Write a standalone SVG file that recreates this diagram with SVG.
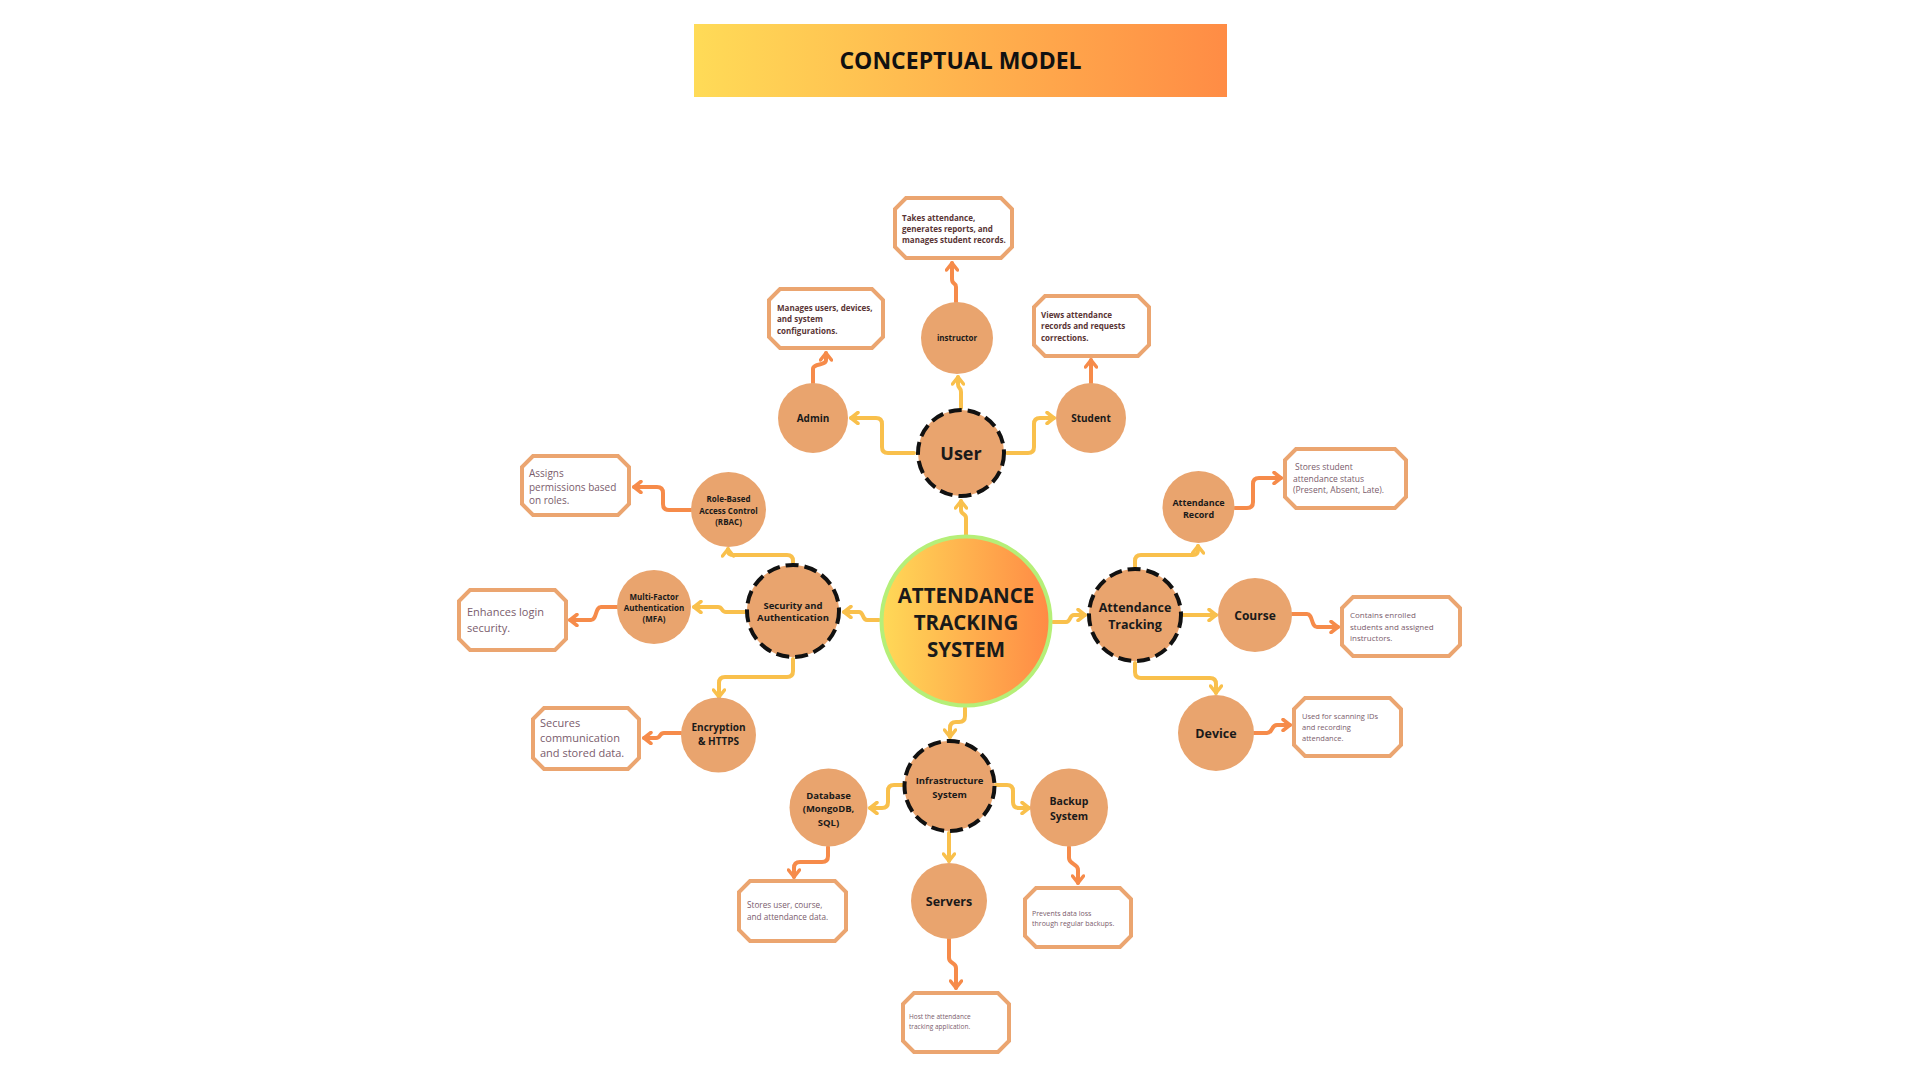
<svg xmlns="http://www.w3.org/2000/svg" width="1920" height="1080" viewBox="0 0 1920 1080">
<defs>
<linearGradient id="gTitle" x1="0" y1="0" x2="1" y2="0">
<stop offset="0" stop-color="#FFDB57"/>
<stop offset="1" stop-color="#FF8C45"/>
</linearGradient>
<linearGradient id="gCore" x1="0" y1="0" x2="1" y2="0">
<stop offset="0" stop-color="#FFD957"/>
<stop offset="1" stop-color="#FF8A45"/>
</linearGradient>
<marker id="ay" viewBox="0 0 12 14" refX="10" refY="7" markerWidth="12" markerHeight="14" orient="auto" markerUnits="userSpaceOnUse">
<path d="M3,1.5 L10,7 L3,12.5" fill="none" stroke="#F9C04C" stroke-width="3.5" stroke-linecap="round" stroke-linejoin="round"/>
</marker>
<marker id="ao" viewBox="0 0 12 14" refX="10" refY="7" markerWidth="12" markerHeight="14" orient="auto" markerUnits="userSpaceOnUse">
<path d="M3,1.5 L10,7 L3,12.5" fill="none" stroke="#F68B4A" stroke-width="3.5" stroke-linecap="round" stroke-linejoin="round"/>
</marker>
</defs>
<style>
.node{fill:#E9A46E;}
.hub{fill:#E9A46E;stroke:#111;stroke-width:4;stroke-dasharray:13 6;}
.lbl{font-family:"Open Sans","Noto Sans",sans-serif;font-weight:bold;fill:#1a1a1a;text-anchor:middle;}
.note{fill:#fff;stroke:#EBA570;stroke-width:4;stroke-linejoin:miter;}
.nt{font-family:"Open Sans","Noto Sans",sans-serif;fill:#7A5C6C;}
.ntb{font-family:"Open Sans","Noto Sans",sans-serif;font-weight:bold;fill:#5A3535;}
.cy{fill:none;stroke:#F9C04C;stroke-width:4;stroke-linecap:round;stroke-linejoin:round;marker-end:url(#ay);}
.co{fill:none;stroke:#F68B4A;stroke-width:4;stroke-linecap:round;stroke-linejoin:round;marker-end:url(#ao);}
</style>
<rect width="1920" height="1080" fill="#fff"/>

<g id="title">
<rect x="694" y="24" width="533" height="73" fill="url(#gTitle)"/>
<text x="960.5" y="68.5" font-family="'Open Sans','Noto Sans',sans-serif" font-weight="bold" font-size="23" fill="#111" text-anchor="middle">CONCEPTUAL MODEL</text>
</g>

<g id="connectors">
<path class="cy" d="M966,535 V518 C966,513 961,515 961,510 V501"/>
<path class="cy" d="M961,408 V392 C961,387 958,389 958,384 V377"/>
<path class="cy" d="M914,453 H888 Q882,453 882,447 V424 Q882,418 876,418 H851"/>
<path class="cy" d="M1007,453 H1028 Q1034,453 1034,447 V424 Q1034,418 1040,418 H1054"/>
<path class="cy" d="M1053,622 H1066 C1071,622 1069,615 1074,615 H1085"/>
<path class="cy" d="M1135,567 V561 Q1135,555 1141,555 H1193 Q1198,555 1198,550 L1198,546"/>
<path class="cy" d="M1183,615 H1216"/>
<path class="cy" d="M1135,663 V672 Q1135,678 1141,678 H1210 Q1216,678 1216,684 V693"/>
<path class="cy" d="M879,620 H867 C862,620 864,612 859,612 H844"/>
<path class="cy" d="M793,563 V561 Q793,555 787,555 H734 Q728,555 728,551 L728,549"/>
<path class="cy" d="M745,612 H726 C721,612 723,607 718,607 H694"/>
<path class="cy" d="M793,659 V671 Q793,677 787,677 H725 Q719,677 719,683 V697"/>
<path class="cy" d="M965,708 V716 Q965,722 959,722 H956 Q950,722 950,728 V737"/>
<path class="cy" d="M903,785 H894 Q888,785 888,791 V802 Q888,808 882,808 H870"/>
<path class="cy" d="M996,785 H1007 Q1013,785 1013,791 V802 Q1013,808 1019,808 H1029"/>
<path class="cy" d="M949,833 V861"/>

<path class="co" d="M813,383 V369 C813,363 826,366 826,360 V353"/>
<path class="co" d="M956,302 V287 C956,282 952,285 952,279 V263"/>
<path class="co" d="M1091,383 V360"/>
<path class="co" d="M1235,508 H1247 Q1253,508 1253,502 V484 Q1253,478 1259,478 H1281"/>
<path class="co" d="M1292,614 H1307 C1313,614 1311,627 1317,627 H1338"/>
<path class="co" d="M1254,733 H1267 C1273,733 1271,725 1277,725 H1290"/>
<path class="co" d="M691,510 H669 Q663,510 663,504 V493 Q663,487 657,487 H634"/>
<path class="co" d="M617,607 H601 C595,607 597,620 591,620 H570"/>
<path class="co" d="M681,733 H664 C659,733 661,738 656,738 H644"/>
<path class="co" d="M828,847 V856 Q828,862 822,862 H800 Q794,862 794,868 V877"/>
<path class="co" d="M1069,847 V858 C1069,865 1078,863 1078,870 V883"/>
<path class="co" d="M949,939 V958 C949,964 956,962 956,968 V988"/>
</g>

<g id="core">
<circle cx="966" cy="621" r="84.5" fill="url(#gCore)" stroke="#B5EF78" stroke-width="4"/>
<text class="lbl" x="966" y="602.5" font-size="20.5" fill="#111">ATTENDANCE</text>
<text class="lbl" x="966" y="629.5" font-size="20.5" fill="#111">TRACKING</text>
<text class="lbl" x="966" y="656.5" font-size="20.5" fill="#111">SYSTEM</text>
</g>

<g id="user">
<circle class="hub" cx="961" cy="453" r="43"/>
<text class="lbl" x="961" y="459.5" font-size="18">User</text>
</g>
<g id="admin">
<circle class="node" cx="813" cy="418" r="35"/>
<text class="lbl" x="813" y="421.5" font-size="10">Admin</text>
</g>
<g id="instructor">
<circle class="node" cx="957" cy="338" r="36"/>
<text class="lbl" x="957" y="341" font-size="8">instructor</text>
</g>
<g id="student">
<circle class="node" cx="1091" cy="418" r="35"/>
<text class="lbl" x="1091" y="421.5" font-size="10">Student</text>
</g>

<g id="attendance-tracking">
<circle class="hub" cx="1135" cy="615" r="46"/>
<text class="lbl" x="1135" y="611.5" font-size="12.5">Attendance</text>
<text class="lbl" x="1135" y="628.5" font-size="12.5">Tracking</text>
</g>
<g id="attendance-record">
<circle class="node" cx="1198.5" cy="507" r="36"/>
<text class="lbl" x="1198.5" y="505.5" font-size="9">Attendance</text>
<text class="lbl" x="1198.5" y="517.5" font-size="9">Record</text>
</g>
<g id="course">
<circle class="node" cx="1255" cy="615" r="37"/>
<text class="lbl" x="1255" y="619.5" font-size="12">Course</text>
</g>
<g id="device">
<circle class="node" cx="1216" cy="733" r="38"/>
<text class="lbl" x="1216" y="737.5" font-size="12.5">Device</text>
</g>

<g id="security">
<circle class="hub" cx="793" cy="611" r="46"/>
<text class="lbl" x="793" y="608.5" font-size="9.5">Security and</text>
<text class="lbl" x="793" y="620.5" font-size="9.5">Authentication</text>
</g>
<g id="rbac">
<circle class="node" cx="728.5" cy="509.5" r="37.5"/>
<text class="lbl" x="728.5" y="502" font-size="8">Role-Based</text>
<text class="lbl" x="728.5" y="513.5" font-size="8">Access Control</text>
<text class="lbl" x="728.5" y="525" font-size="8">(RBAC)</text>
</g>
<g id="mfa">
<circle class="node" cx="654" cy="607" r="37"/>
<text class="lbl" x="654" y="600" font-size="8">Multi-Factor</text>
<text class="lbl" x="654" y="611" font-size="8">Authentication</text>
<text class="lbl" x="654" y="622" font-size="8">(MFA)</text>
</g>
<g id="encryption">
<circle class="node" cx="718.5" cy="735" r="37.5"/>
<text class="lbl" x="718.5" y="730.5" font-size="10">Encryption</text>
<text class="lbl" x="718.5" y="744.5" font-size="10">&amp; HTTPS</text>
</g>

<g id="infrastructure">
<circle class="hub" cx="949.5" cy="786" r="45"/>
<text class="lbl" x="949.5" y="783.5" font-size="9.5">Infrastructure</text>
<text class="lbl" x="949.5" y="797.5" font-size="9.5">System</text>
</g>
<g id="database">
<circle class="node" cx="828.5" cy="807.5" r="39"/>
<text class="lbl" x="828.5" y="798.5" font-size="9.5">Database</text>
<text class="lbl" x="828.5" y="811.5" font-size="9.5">(MongoDB,</text>
<text class="lbl" x="828.5" y="825.5" font-size="9.5">SQL)</text>
</g>
<g id="backup">
<circle class="node" cx="1069" cy="807.5" r="39"/>
<text class="lbl" x="1069" y="804.5" font-size="10.5">Backup</text>
<text class="lbl" x="1069" y="819.5" font-size="10.5">System</text>
</g>
<g id="servers">
<circle class="node" cx="949" cy="901" r="38"/>
<text class="lbl" x="949" y="905.5" font-size="12.5">Servers</text>
</g>

<g id="note-instructor">
<polygon class="note" points="906,198 1001,198 1012,209 1012,247 1001,258 906,258 895,247 895,209"/>
<text class="ntb" font-size="8" x="902"><tspan x="902" y="221">Takes attendance,</tspan><tspan x="902" y="232">generates reports, and</tspan><tspan x="902" y="243">manages student records.</tspan></text>
</g>
<g id="note-admin">
<polygon class="note" points="780,289 872,289 883,300 883,337 872,348 780,348 769,337 769,300"/>
<text class="ntb" font-size="8"><tspan x="777" y="311">Manages users, devices,</tspan><tspan x="777" y="322">and system</tspan><tspan x="777" y="334">configurations.</tspan></text>
</g>
<g id="note-student">
<polygon class="note" points="1045,296 1138,296 1149,307 1149,345 1138,356 1045,356 1034,345 1034,307"/>
<text class="ntb" font-size="8"><tspan x="1041" y="318">Views attendance</tspan><tspan x="1041" y="329">records and requests</tspan><tspan x="1041" y="341">corrections.</tspan></text>
</g>
<g id="note-record">
<polygon class="note" points="1296,449 1395,449 1406,460 1406,497 1395,508 1296,508 1285,497 1285,460"/>
<text class="nt" font-size="8.5"><tspan x="1295" y="470">Stores student</tspan><tspan x="1293" y="481.5">attendance status</tspan><tspan x="1293" y="493">(Present, Absent, Late).</tspan></text>
</g>
<g id="note-course">
<polygon class="note" points="1353,597 1449,597 1460,608 1460,645 1449,656 1353,656 1342,645 1342,608"/>
<text class="nt" font-size="8"><tspan x="1350" y="618">Contains enrolled</tspan><tspan x="1350" y="630">students and assigned</tspan><tspan x="1350" y="641">instructors.</tspan></text>
</g>
<g id="note-device">
<polygon class="note" points="1305,698 1390,698 1401,709 1401,745 1390,756 1305,756 1294,745 1294,709"/>
<text class="nt" font-size="7.5"><tspan x="1302" y="719">Used for scanning IDs</tspan><tspan x="1302" y="730">and recording</tspan><tspan x="1302" y="741">attendance.</tspan></text>
</g>
<g id="note-rbac">
<polygon class="note" points="533,456 618,456 629,467 629,504 618,515 533,515 522,504 522,467"/>
<text class="nt" font-size="10"><tspan x="529" y="476.5">Assigns</tspan><tspan x="529" y="490.5">permissions based</tspan><tspan x="529" y="503.5">on roles.</tspan></text>
</g>
<g id="note-mfa">
<polygon class="note" points="470,590 555,590 566,601 566,639 555,650 470,650 459,639 459,601"/>
<text class="nt" font-size="11"><tspan x="467" y="616">Enhances login</tspan><tspan x="467" y="632">security.</tspan></text>
</g>
<g id="note-encryption">
<polygon class="note" points="544,708 628,708 639,719 639,758 628,769 544,769 533,758 533,719"/>
<text class="nt" font-size="11"><tspan x="540" y="727">Secures</tspan><tspan x="540" y="742">communication</tspan><tspan x="540" y="757">and stored data.</tspan></text>
</g>
<g id="note-database">
<polygon class="note" points="750,881 835,881 846,892 846,930 835,941 750,941 739,930 739,892"/>
<text class="nt" font-size="8.2"><tspan x="747" y="908">Stores user, course,</tspan><tspan x="747" y="920">and attendance data.</tspan></text>
</g>
<g id="note-backup">
<polygon class="note" points="1036,888 1120,888 1131,899 1131,936 1120,947 1036,947 1025,936 1025,899"/>
<text class="nt" font-size="7"><tspan x="1032" y="915.5">Prevents data loss</tspan><tspan x="1032" y="925.5">through regular backups.</tspan></text>
</g>
<g id="note-servers">
<polygon class="note" points="914,993 998,993 1009,1004 1009,1041 998,1052 914,1052 903,1041 903,1004"/>
<text class="nt" font-size="6.5"><tspan x="909" y="1019">Host the attendance</tspan><tspan x="909" y="1029">tracking application.</tspan></text>
</g>
</svg>
